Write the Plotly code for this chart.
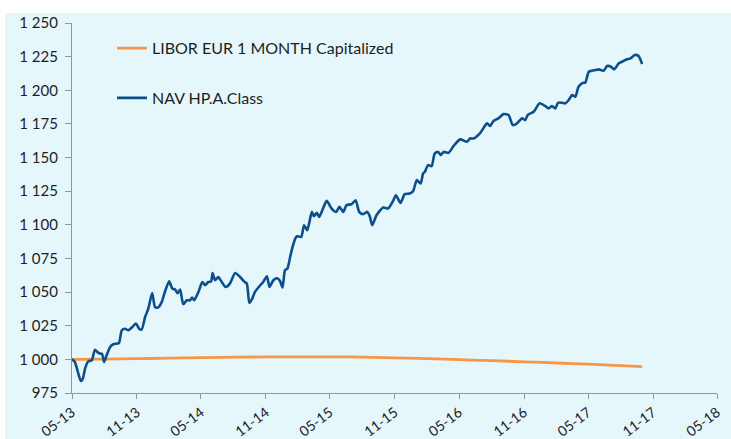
import plotly.graph_objects as go

# NAV HP.A.Class
nav_dates = [
    "2013-05-01", "2013-05-09", "2013-05-18", "2013-05-26", "2013-06-01", "2013-06-07", "2013-06-16",
    "2013-06-26", "2013-07-05", "2013-07-12", "2013-07-19", "2013-07-25", "2013-07-31", "2013-08-07",
    "2013-08-17", "2013-08-26", "2013-09-05", "2013-09-11", "2013-09-19", "2013-09-28", "2013-10-07",
    "2013-10-17", "2013-10-29", "2013-11-07", "2013-11-14", "2013-11-24", "2013-12-03", "2013-12-14",
    "2013-12-22", "2013-12-30", "2014-01-10", "2014-01-19", "2014-01-31", "2014-02-09", "2014-02-17",
    "2014-02-24", "2014-03-03", "2014-03-12", "2014-03-22", "2014-03-31", "2014-04-06", "2014-04-12",
    "2014-04-24", "2014-05-05", "2014-05-13", "2014-05-22", "2014-05-30", "2014-06-03", "2014-06-10",
    "2014-06-19", "2014-06-29", "2014-07-10", "2014-07-22", "2014-08-06", "2014-08-20", "2014-08-31",
    "2014-09-08", "2014-09-15", "2014-09-23", "2014-10-01", "2014-10-16", "2014-10-24", "2014-11-04",
    "2014-11-11", "2014-11-22", "2014-12-03", "2014-12-11", "2014-12-18", "2014-12-25", "2015-01-01",
    "2015-01-09", "2015-01-16", "2015-01-23", "2015-01-28", "2015-02-09", "2015-02-17", "2015-02-26",
    "2015-03-11", "2015-03-17", "2015-03-25", "2015-04-01", "2015-04-12", "2015-04-22", "2015-05-06",
    "2015-05-19", "2015-05-28", "2015-06-08", "2015-06-17", "2015-07-01", "2015-07-13", "2015-07-23",
    "2015-08-03", "2015-08-15", "2015-08-22", "2015-08-29", "2015-09-10", "2015-09-29", "2015-10-13",
    "2015-10-27", "2015-11-04", "2015-11-17", "2015-11-29", "2015-12-13", "2015-12-23", "2016-01-02",
    "2016-01-13", "2016-01-20", "2016-01-25", "2016-02-03", "2016-02-13", "2016-02-22", "2016-03-03",
    "2016-03-10", "2016-03-18", "2016-04-01", "2016-04-15", "2016-05-04", "2016-05-23", "2016-06-01",
    "2016-06-11", "2016-06-30", "2016-07-19", "2016-07-28", "2016-08-06", "2016-08-20", "2016-09-04",
    "2016-09-18", "2016-09-30", "2016-10-12", "2016-10-26", "2016-11-04", "2016-11-11", "2016-11-28",
    "2016-12-15", "2016-12-31", "2017-01-09", "2017-01-19", "2017-01-28", "2017-02-05", "2017-02-16",
    "2017-02-26", "2017-03-07", "2017-03-17", "2017-03-26", "2017-04-04", "2017-04-17", "2017-04-23",
    "2017-05-03", "2017-05-12", "2017-05-22", "2017-05-31", "2017-06-14", "2017-06-24", "2017-07-05",
    "2017-07-14", "2017-07-27", "2017-08-10", "2017-08-19", "2017-08-29", "2017-09-10", "2017-09-21",
    "2017-10-01",
]
nav_values = [
    1000.0, 998.0, 990.3, 983.9, 985.9, 993.1, 998.5,
    999.3, 1007.2, 1005.4, 1004.3, 1004.1, 998.0, 1003.0,
    1009.2, 1011.2, 1011.7, 1012.1, 1021.6, 1022.8, 1021.6,
    1023.6, 1026.6, 1022.8, 1022.1, 1031.5, 1037.7, 1049.3,
    1038.9, 1038.5, 1042.6, 1050.1, 1058.0, 1052.6, 1051.9,
    1049.1, 1051.9, 1040.9, 1043.9, 1043.9, 1046.0, 1043.9,
    1050.1, 1057.5, 1055.1, 1057.5, 1058.0, 1064.2, 1058.8,
    1061.2, 1057.5, 1053.8, 1056.3, 1064.2, 1061.2, 1058.0,
    1056.3, 1042.0, 1045.0, 1050.1, 1055.1, 1057.3, 1061.8,
    1053.8, 1058.8, 1060.3, 1058.3, 1053.4, 1066.2, 1067.5,
    1076.6, 1084.1, 1089.8, 1091.5, 1091.0, 1099.7, 1096.0,
    1109.6, 1106.4, 1108.9, 1105.9, 1112.4, 1117.8, 1112.1,
    1109.6, 1113.3, 1109.6, 1114.6, 1115.3, 1118.3, 1109.6,
    1107.9, 1109.6, 1106.4, 1099.7, 1107.1, 1112.9, 1112.1,
    1117.8, 1122.0, 1116.3, 1122.8, 1123.3, 1125.2, 1133.2,
    1130.7, 1138.2, 1139.4, 1144.4, 1143.6, 1153.1, 1154.2,
    1151.8, 1154.2, 1153.5, 1158.5, 1163.5, 1161.7, 1164.2,
    1164.2, 1168.4, 1175.4, 1173.4, 1177.1, 1179.1, 1182.3,
    1181.6, 1174.1, 1175.4, 1179.1, 1177.8, 1181.6, 1184.0,
    1190.3, 1188.2, 1186.5, 1188.2, 1186.5, 1190.7, 1190.7,
    1190.3, 1192.7, 1196.4, 1195.2, 1202.6, 1205.6, 1205.6,
    1213.8, 1214.5, 1215.0, 1215.5, 1214.5, 1218.0, 1217.5,
    1215.5, 1220.0, 1221.9, 1223.0, 1223.7, 1226.2, 1225.4,
    1219.5,
]

# LIBOR EUR 1 MONTH Capitalized
libor_dates = [
    "2013-05-01", "2013-08-01", "2013-11-01", "2014-02-01", "2014-05-01", "2014-08-01",
    "2014-11-01", "2015-02-01", "2015-05-01", "2015-08-01", "2015-11-01", "2016-02-01",
    "2016-05-01", "2016-08-01", "2016-11-01", "2017-02-01", "2017-05-01", "2017-08-01",
    "2017-10-01",
]
libor_values = [
    1000.0, 1000.2, 1000.5, 1000.9, 1001.3, 1001.6,
    1001.8, 1001.9, 1001.9, 1001.7, 1001.1, 1000.5,
    999.8, 999.0, 998.2, 997.3, 996.4, 995.4,
    994.6,
]

x_tick_vals = ["2013-05-01", "2013-11-01", "2014-05-01", "2014-11-01", "2015-05-01", "2015-11-01",
               "2016-05-01", "2016-11-01", "2017-05-01", "2017-11-01", "2018-05-01"]
x_tick_text = ["05-13", "11-13", "05-14", "11-14", "05-15", "11-15",
               "05-16", "11-16", "05-17", "11-17", "05-18"]
y_tick_vals = [975, 1000, 1025, 1050, 1075, 1100, 1125, 1150, 1175, 1200, 1225, 1250]
y_tick_text = ["975", "1 000", "1 025", "1 050", "1 075", "1 100", "1 125", "1 150",
               "1 175", "1 200", "1 225", "1 250"]

BG = "#E6F7FC"
AXIS = "#8A99A6"
TEXT = "#1E1E1E"
FONT = "Lato, 'Liberation Sans', sans-serif"

fig = go.Figure()
fig.add_trace(go.Scatter(
    x=libor_dates, y=libor_values, mode="lines", name="LIBOR EUR 1 MONTH Capitalized",
    line=dict(color="#F79646", width=2.8, shape="spline"), legendgroup="a",
))
fig.add_trace(go.Scatter(
    x=nav_dates, y=nav_values, mode="lines", name="NAV HP.A.Class",
    line=dict(color="#0B4F8C", width=2.6, shape="spline", smoothing=0.6), legendgroup="b",
))

fig.update_layout(
    width=731, height=439,
    margin=dict(l=72, r=14, t=23, b=46, autoexpand=False),
    paper_bgcolor="white",
    plot_bgcolor=BG,
    font=dict(family=FONT, size=15, color=TEXT),
    showlegend=True,
    legend=dict(
        x=0.062, y=0.978, xanchor="left", yanchor="top",
        bgcolor="rgba(0,0,0,0)", font=dict(size=16, color=TEXT),
        traceorder="grouped", tracegroupgap=26, itemwidth=30,
    ),
    shapes=[dict(
        type="rect", xref="paper", yref="paper", layer="below",
        x0=-67 / 645, x1=1 + 14 / 645, y0=-46 / 370, y1=1 + 10 / 370,
        fillcolor=BG, line=dict(width=0),
    )],
    xaxis=dict(
        type="date", range=["2013-05-01", "2018-05-01"], automargin=False,
        tickvals=x_tick_vals, ticktext=x_tick_text, tickangle=-37,
        showgrid=False, zeroline=False, showline=True, linecolor=AXIS, linewidth=1.2,
        ticks="outside", ticklen=5, tickcolor=AXIS, tickwidth=1.2,
        tickfont=dict(size=14, color=TEXT),
    ),
    yaxis=dict(
        range=[975, 1250], tickvals=y_tick_vals, ticktext=y_tick_text, automargin=False,
        showgrid=False, zeroline=False, showline=True, linecolor=AXIS, linewidth=1.2,
        ticks="outside", ticklen=6, tickcolor=AXIS, tickwidth=1.2, ticklabelstandoff=4,
        tickfont=dict(size=15, color=TEXT),
    ),
)

fig.write_html(
    "out.html",
    config={"displayModeBar": False},
    post_script="document.body.style.margin='0';document.body.style.overflow='hidden';",
)
